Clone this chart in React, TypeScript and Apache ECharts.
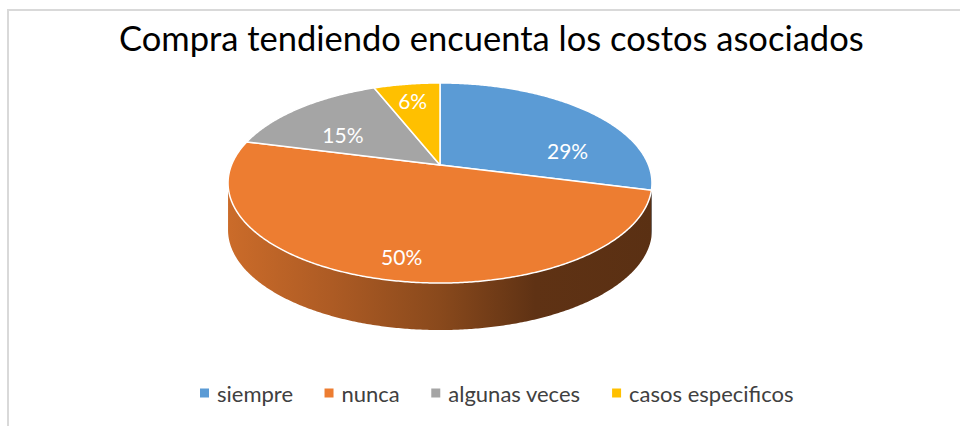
import React, { useEffect, useRef } from 'react';
import * as echarts from 'echarts';

// ---- data ----
const chartTitle = 'Compra tendiendo encuenta los costos asociados';
const categories = ['siempre', 'nunca', 'algunas veces', 'casos especificos'];
const values = [29, 50, 15, 6];
const colors = ['#5B9BD5', '#ED7D31', '#A5A5A5', '#FFC000'];

// ---- geometry / style (not data) ----
const CX = 440;
const CY = 165;
const AX = 208.5;
const BY = 96.8;
const K = 0.18;
const DEPTH = 47;
const SIL_L = (Math.acos(-K) * 180) / Math.PI; // right silhouette angle
const SIL_R = 360 - SIL_L; // left silhouette angle
const EXT = 1 / Math.sqrt(1 - K * K);
const labelNudge = [
  [20.5, 24],
  [3, 16.5],
  [4, 10.5],
  [-3, -5.5],
];

const total = values.reduce((a, b) => a + b, 0);
const starts: number[] = [];
{
  let acc = 0;
  values.forEach((v) => {
    starts.push(acc);
    acc += v;
  });
}

function proj(tDeg: number, f = 1): number[] {
  const t = (tDeg * Math.PI) / 180;
  const X = Math.sin(t) * f;
  const Y = -Math.cos(t) * f;
  const w = 1 - K * Y;
  return [CX + (AX * X) / w, CY + (BY * Y) / w];
}

function arc(a: number, b: number, step = 0.5): number[] {
  const out: number[] = [];
  for (let t = a; t < b; t += step) out.push(t);
  out.push(b);
  return out;
}

function shade(hex: string, f: number): string {
  const n = parseInt(hex.slice(1), 16);
  const r = Math.round(((n >> 16) & 255) * f);
  const g = Math.round(((n >> 8) & 255) * f);
  const b = Math.round((n & 255) * f);
  return `rgb(${r},${g},${b})`;
}

export default function App() {
  const ref = useRef<HTMLDivElement>(null);
  useEffect(() => {
    if (!ref.current) return;
    const chart = echarts.init(ref.current, undefined, { renderer: 'svg' });
    const xl = CX - AX * EXT * 1.02;
    const xr = CX + AX * EXT * 1.02;

    const series = categories.map((name, i) => ({
      type: 'custom',
      name,
      coordinateSystem: 'none',
      itemStyle: { color: colors[i] },
      data: [[values[i], starts[i]]],
      renderItem: (_params: any, api: any) => {
        const v = api.value(0) as number;
        const s = api.value(1) as number;
        const a0 = (s / total) * 360;
        const a1 = ((s + v) / total) * 360;
        const children: any[] = [];
        const c = colors[i];
        // side wall
        const sS = Math.max(a0, SIL_L);
        const sE = Math.min(a1, SIL_R);
        if (sE > sS) {
          const topPts = arc(sS, sE).map((t) => proj(t));
          const botPts = topPts
            .slice()
            .reverse()
            .map((p) => [p[0], p[1] + DEPTH]);
          children.push({
            type: 'polygon',
            shape: { points: topPts.concat(botPts) },
            style: {
              fill: new echarts.graphic.LinearGradient(
                xl,
                0,
                xr,
                0,
                [
                  { offset: 0, color: shade(c, 0.86) },
                  { offset: 0.25, color: shade(c, 0.73) },
                  { offset: 0.5, color: shade(c, 0.58) },
                  { offset: 0.72, color: shade(c, 0.4) },
                  { offset: 1, color: shade(c, 0.38) },
                ],
                true
              ),
              stroke: null,
            },
          });
        }
        // top face
        const pts = [[CX, CY]].concat(arc(a0, a1).map((t) => proj(t)));
        children.push({
          type: 'polygon',
          shape: { points: pts },
          style: { fill: c, stroke: '#ffffff', lineWidth: 1.5, lineJoin: 'round' },
        });
        // label
        const mid = (a0 + a1) / 2;
        const lp = proj(mid, 0.7);
        children.push({
          type: 'text',
          x: lp[0] + labelNudge[i][0],
          y: lp[1] + labelNudge[i][1],
          style: {
            text: `${Math.round((v / total) * 100)}%`,
            fill: '#ffffff',
            fontSize: 21,
            fontFamily: 'Lato',
            align: 'center',
            verticalAlign: 'middle',
          },
        });
        return { type: 'group', children };
      },
    }));

    chart.setOption({
      animation: false,
      title: {
        text: chartTitle,
        left: 114,
        top: 15,
        textStyle: {
          fontFamily: 'Lato',
          fontSize: 34.5,
          fontWeight: 'normal',
          color: '#000000',
        },
      },
      legend: {
        data: categories,
        icon: 'rect',
        left: 195,
        top: 377,
        itemWidth: 9,
        itemHeight: 9,
        itemGap: 31.5,
        textStyle: {
          fontFamily: 'Lato',
          fontSize: 22,
          color: '#404040',
          padding: [0, 0, 0, 3],
        },
      },
      graphic: [
        {
          type: 'rect',
          shape: { x: 8, y: 10, width: 1000, height: 500 },
          style: { fill: 'none', stroke: '#d9d9d9', lineWidth: 2 },
          silent: true,
        },
      ],
      series,
    });
    return () => chart.dispose();
  }, []);
  return (
    <div
      ref={ref}
      style={{ position: 'fixed', left: 0, top: 0, width: 960, height: 426, background: '#fff' }}
    />
  );
}
